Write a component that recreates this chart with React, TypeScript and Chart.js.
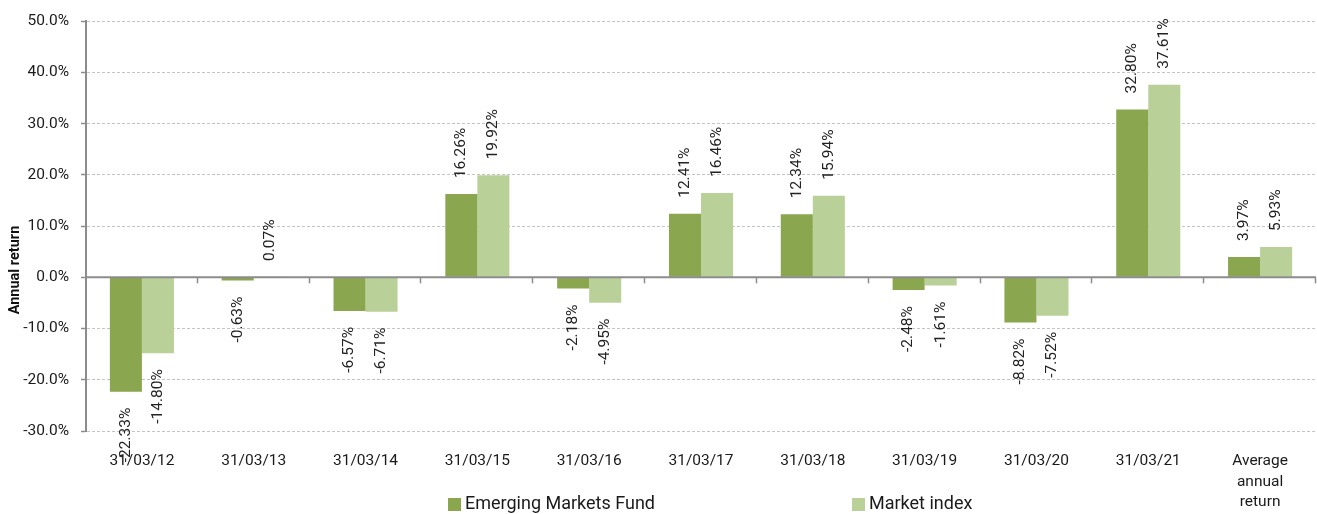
import React, { useEffect, useRef } from "react";
import { Chart, registerables } from "chart.js";

Chart.register(...registerables);

const categories: (string | string[])[] = [
  "31/03/12", "31/03/13", "31/03/14", "31/03/15", "31/03/16", "31/03/17",
  "31/03/18", "31/03/19", "31/03/20", "31/03/21", ["Average", "annual", "return"],
];
const fundValues = [-22.33, -0.63, -6.57, 16.26, -2.18, 12.41, 12.34, -2.48, -8.82, 32.80, 3.97];
const indexValues = [-14.80, 0.07, -6.71, 19.92, -4.95, 16.46, 15.94, -1.61, -7.52, 37.61, 5.93];
const seriesNames = ["Emerging Markets Fund", "Market index"];
const seriesColors = ["#8AA64F", "#B9D098"];
const yTicks = { min: -30, max: 50, step: 10 };
const yTitle = "Annual return";

const FONT = "Roboto, 'Noto Sans', sans-serif";

const decorPlugin = {
  id: "decor",
  afterDatasetsDraw(chart: any) {
    const ctx = chart.ctx;
    const area = chart.chartArea;
    const y = chart.scales.y;
    const y0 = y.getPixelForValue(0);
    ctx.save();
    // zero line
    ctx.strokeStyle = "#8c8c8c";
    ctx.lineWidth = 2;
    ctx.beginPath();
    ctx.moveTo(area.left, y0);
    ctx.lineTo(area.right, y0);
    ctx.stroke();
    // category boundary ticks
    const n = categories.length;
    const w = (area.right - area.left) / n;
    ctx.lineWidth = 1.5;
    for (let k = 1; k <= n; k++) {
      const x = Math.round(area.left + k * w) - 0.5;
      ctx.beginPath();
      ctx.moveTo(x, y0);
      ctx.lineTo(x, y0 + 6);
      ctx.stroke();
    }
    // data labels
    ctx.fillStyle = "#222";
    ctx.font = `15.5px ${FONT}`;
    ctx.textBaseline = "middle";
    chart.data.datasets.forEach((ds: any, di: number) => {
      const meta = chart.getDatasetMeta(di);
      meta.data.forEach((bar: any, i: number) => {
        const v = ds.data[i];
        const txt = v.toFixed(2) + "%";
        ctx.save();
        if (v >= 0) {
          ctx.translate(bar.x, bar.y - 16);
          ctx.rotate(-Math.PI / 2);
          ctx.textAlign = "left";
        } else {
          ctx.translate(bar.x, bar.y + 16);
          ctx.rotate(-Math.PI / 2);
          ctx.textAlign = "right";
        }
        ctx.fillText(txt, 0, 0);
        ctx.restore();
      });
    });
    ctx.restore();
  },
  afterDraw(chart: any) {
    const ctx = chart.ctx;
    ctx.save();
    // y title
    ctx.fillStyle = "#111";
    ctx.font = `bold 14.5px ${FONT}`;
    ctx.textAlign = "center";
    ctx.textBaseline = "middle";
    ctx.translate(15, 270);
    ctx.rotate(-Math.PI / 2);
    ctx.fillText(yTitle, 0, 0);
    ctx.restore();
    // legend
    ctx.save();
    const items = [
      { x: 448, label: seriesNames[0], color: seriesColors[0] },
      { x: 852, label: seriesNames[1], color: seriesColors[1] },
    ];
    ctx.font = `18px ${FONT}`;
    ctx.textBaseline = "middle";
    ctx.textAlign = "left";
    items.forEach((it) => {
      ctx.fillStyle = it.color;
      ctx.fillRect(it.x, 498, 13, 13);
      ctx.fillStyle = "#1a1a1a";
      ctx.fillText(it.label, it.x + 17, 504.5);
    });
    ctx.restore();
  },
};

export default function App() {
  const ref = useRef<HTMLCanvasElement>(null);
  useEffect(() => {
    if (!ref.current) return;
    const chart = new Chart(ref.current, {
      type: "bar",
      data: {
        labels: categories as any,
        datasets: [
          { label: seriesNames[0], data: fundValues, backgroundColor: seriesColors[0] },
          { label: seriesNames[1], data: indexValues, backgroundColor: seriesColors[1] },
        ],
      },
      options: {
        animation: false,
        responsive: false,
        layout: { padding: { top: 19, right: 1, bottom: 0, left: 0 } },
        datasets: { bar: { categoryPercentage: 0.573, barPercentage: 1.0 } } as any,
        plugins: { legend: { display: false }, tooltip: { enabled: false }, title: { display: false } },
        scales: {
          x: {
            grid: { display: false, drawTicks: false },
            border: { display: false },
            ticks: {
              color: "#1a1a1a",
              font: { family: FONT, size: 15.5, lineHeight: 1.32 },
              padding: 20,
              maxRotation: 0,
              autoSkip: false,
            },
            afterFit: (s: any) => { s.height = 83; },
          },
          y: {
            min: yTicks.min,
            max: yTicks.max,
            grid: {
              color: "#c4c4c4",
              lineWidth: 1,
              tickColor: "#8c8c8c",
              tickLength: 5,
              tickBorderDash: [],
              tickWidth: 1.5,
            },
            border: { display: true, color: "#8c8c8c", width: 2, dash: [3, 2] },
            ticks: {
              stepSize: yTicks.step,
              color: "#1a1a1a",
              font: { family: FONT, size: 15.5 },
              padding: 12,
              callback: (v: any) => Number(v).toFixed(1) + "%",
            },
            afterFit: (s: any) => { s.width = 86; },
          },
        },
      },
      plugins: [decorPlugin],
    });
    return () => chart.destroy();
  }, []);
  return (
    <div style={{ position: "fixed", left: 0, top: 0, width: 1317, height: 514, background: "#fff" }}>
      <canvas ref={ref} width={1317} height={514} style={{ display: "block" }} />
    </div>
  );
}
